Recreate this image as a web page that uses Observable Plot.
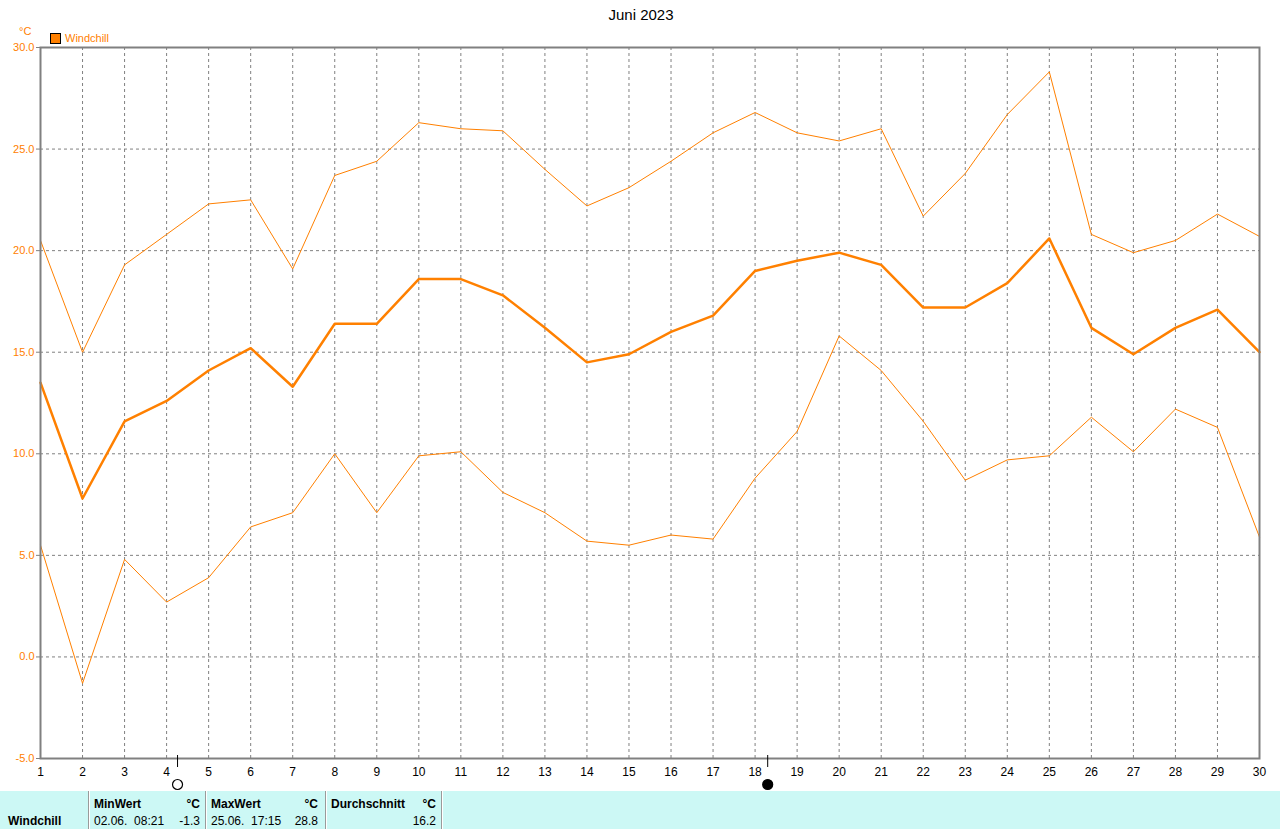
<!DOCTYPE html>
<html>
<head>
<meta charset="utf-8">
<script src="https://cdn.jsdelivr.net/npm/d3@7"></script>
<script src="https://cdn.jsdelivr.net/npm/@observablehq/plot@0.6"></script>
<style>
  html, body { margin: 0; padding: 0; background: #fff; width: 1280px; height: 829px; overflow: hidden; font-family: "Liberation Sans", Arial, sans-serif; }
  #header { position: relative; height: 44px; width: 1280px; }
  #title { position: absolute; left: 0; width: 1282px; top: 6px; text-align: center; font-size: 15px; color: #000; }
  #unit { position: absolute; left: 19px; top: 25px; font-size: 11px; color: #ff8000; }
  #legend { position: absolute; left: 50px; top: 32px; display: flex; align-items: center; font-size: 11px; color: #ff8000; }
  #legend .sw { width: 9px; height: 9px; border: 1px solid #000; background: #ff8000; margin-right: 4px; }
  #chart svg { display: block; overflow: visible; }
  #table { position: absolute; left: 0; top: 791px; width: 1280px; height: 38px; background: #ccf8f5; font-size: 12px; color: #000; }
  #table .sep { position: absolute; top: 0; width: 1px; height: 38px; background: #9a9a9a; border-right: 1px solid #fff; }
  #table .t { position: absolute; white-space: pre; }
  #table .b { font-weight: bold; }
</style>
</head>
<body>
<div id="header">
  <div id="title"></div>
  <div id="unit"></div>
  <div id="legend"><div class="sw"></div><span id="legendLabel"></span></div>
</div>
<div id="chart"></div>
<div id="table"></div>
<script>
// ---- data ----
const chartTitle = "Juni 2023";
const unitLabel = "°C";
const seriesName = "Windchill";
const days = [1,2,3,4,5,6,7,8,9,10,11,12,13,14,15,16,17,18,19,20,21,22,23,24,25,26,27,28,29,30];
const maxVals = [20.5,15.0,19.3,20.8,22.3,22.5,19.1,23.7,24.4,26.3,26.0,25.9,24.0,22.2,23.1,24.4,25.8,26.8,25.8,25.4,26.0,21.7,23.8,26.7,28.8,20.8,19.9,20.5,21.8,20.7];
const avgVals = [13.5,7.8,11.6,12.6,14.1,15.2,13.3,16.4,16.4,18.6,18.6,17.8,16.2,14.5,14.9,16.0,16.8,19.0,19.5,19.9,19.3,17.2,17.2,18.4,20.6,16.2,14.9,16.2,17.1,15.0];
const minVals = [5.5,-1.3,4.8,2.7,3.9,6.4,7.1,10.0,7.1,9.9,10.1,8.1,7.1,5.7,5.5,6.0,5.8,8.8,11.1,15.8,14.1,11.6,8.7,9.7,9.9,11.8,10.1,12.2,11.3,5.9];
const yTicks = [-5,0,5,10,15,20,25,30];
const moonDays = [4.26, 18.3];
const moonTypes = ["full", "new"];
const statHeaders = ["MinWert", "MaxWert", "Durchschnitt"];
const statTimes = ["02.06.  08:21", "25.06.  17:15", ""];
const statValues = ["-1.3", "28.8", "16.2"];

// ---- header ----
document.getElementById("title").textContent = chartTitle;
document.getElementById("unit").textContent = unitLabel;
document.getElementById("legendLabel").textContent = seriesName;

const data = days.map((d, i) => ({day: d, max: maxVals[i], avg: avgVals[i], min: minVals[i]}));
const moons = moonDays.map((d, i) => ({day: d, type: moonTypes[i]}));

const orange = "#ff8000";
const gray = "#808080";

const plot = Plot.plot({
  width: 1280,
  height: 747,
  marginTop: 3,
  marginLeft: 40,
  marginRight: 21,
  marginBottom: 33,
  style: {fontFamily: "Liberation Sans, Arial, sans-serif", background: "transparent", overflow: "visible"},
  x: {domain: [1, 30], axis: null},
  y: {domain: [-5, 30], axis: null},
  marks: [
    Plot.gridX(days.slice(1, -1), {stroke: gray, strokeOpacity: 1, strokeDasharray: "3,3"}),
    Plot.gridY(yTicks.slice(1, -1), {stroke: gray, strokeOpacity: 1, strokeDasharray: "3,3"}),
    Plot.line(data, {x: "day", y: "max", stroke: orange, strokeWidth: 1}),
    Plot.line(data, {x: "day", y: "min", stroke: orange, strokeWidth: 1}),
    Plot.line(data, {x: "day", y: "avg", stroke: orange, strokeWidth: 2.5}),
    Plot.frame({stroke: gray, strokeWidth: 2}),
    Plot.axisY({ticks: yTicks, label: null, tickSize: 4, tickPadding: 2, stroke: gray, fill: orange, fontSize: 11, tickFormat: d => d.toFixed(1)}),
    Plot.axisX({ticks: days, label: null, tickSize: 0, tickPadding: 9, fill: "#000", fontSize: 12, tickFormat: d => String(d)}),
    Plot.ruleX(moons, {x: "day", y1: -5, y2: -5, insetTop: -3, insetBottom: -9, stroke: "#000", strokeWidth: 1}),
    Plot.dot(moons, {x: "day", y: -5, dy: 26, r: 5, stroke: "#000", strokeWidth: 1.2, fill: d => d.type === "new" ? "#000" : "#fff"})
  ]
});
document.getElementById("chart").appendChild(plot);

// ---- bottom table ----
const table = document.getElementById("table");
function addText(txt, left, top, bold, right) {
  const el = document.createElement("div");
  el.className = "t" + (bold ? " b" : "");
  el.textContent = txt;
  el.style.top = top + "px";
  if (right !== undefined) { el.style.right = (1280 - right) + "px"; } else { el.style.left = left + "px"; }
  table.appendChild(el);
}
const sepX = [88, 205, 325, 441];
sepX.forEach(x => { const s = document.createElement("div"); s.className = "sep"; s.style.left = x + "px"; table.appendChild(s); });
addText(seriesName, 8, 23, true);
const colLeft = [94, 211, 331];
const colRight = [200, 318, 436];
statHeaders.forEach((h, i) => {
  addText(h, colLeft[i], 6, true);
  addText(unitLabel, null, 6, true, colRight[i]);
  if (statTimes[i]) addText(statTimes[i], colLeft[i], 23, false);
  addText(statValues[i], null, 23, false, colRight[i]);
});
</script>
</body>
</html>
